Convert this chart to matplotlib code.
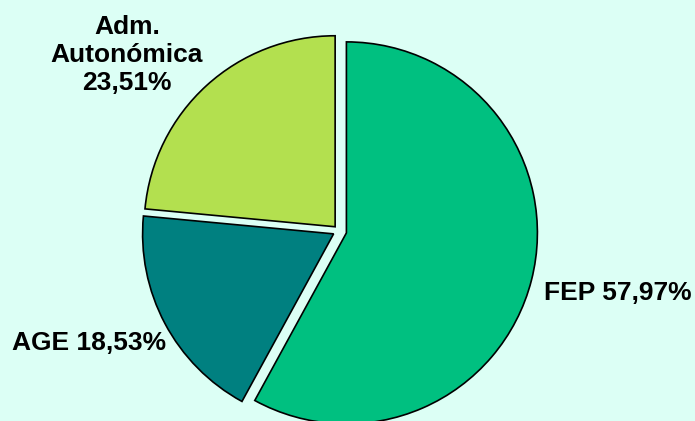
import matplotlib.pyplot as plt

labels = ["FEP", "AGE", "Adm.\nAutonómica"]
values = [57.97, 18.53, 23.51]
colors = ["#00C080", "#008080", "#B3E04F"]

bg = "#DCFFF5"
radius = 191
# explode is an absolute offset in data units, so scale it by the radius
explode = [f * radius for f in (0.04, 0.032, 0.03)]

fig = plt.figure(figsize=(6.95, 4.21), dpi=100, facecolor=bg)
ax = fig.add_axes([0, 0, 1, 1])
ax.set_facecolor(bg)

# work in pixel-like units so the pie can run off the bottom edge
ax.pie(values, colors=colors, explode=explode, startangle=90, counterclock=False,
       center=(339, 190), radius=radius,
       wedgeprops=dict(edgecolor="black", linewidth=1.2))
ax.set_xlim(0, 695)
ax.set_ylim(0, 421)
ax.set_aspect("equal")
ax.axis("off")

def fmt(v):
    return f"{v:.2f}".replace(".", ",") + "%"

font = dict(family="Liberation Sans", fontsize=19, fontweight="bold")
ax.text(544, 121, f"{labels[0]} {fmt(values[0])}", ha="left", va="baseline", **font)
ax.text(12, 71, f"{labels[1]} {fmt(values[1])}", ha="left", va="baseline", **font)
ax.text(127, 331, f"{labels[2]}\n{fmt(values[2])}", ha="center", va="baseline",
        linespacing=1.2, **font)

fig.savefig("out.png", dpi=100, facecolor=bg)
